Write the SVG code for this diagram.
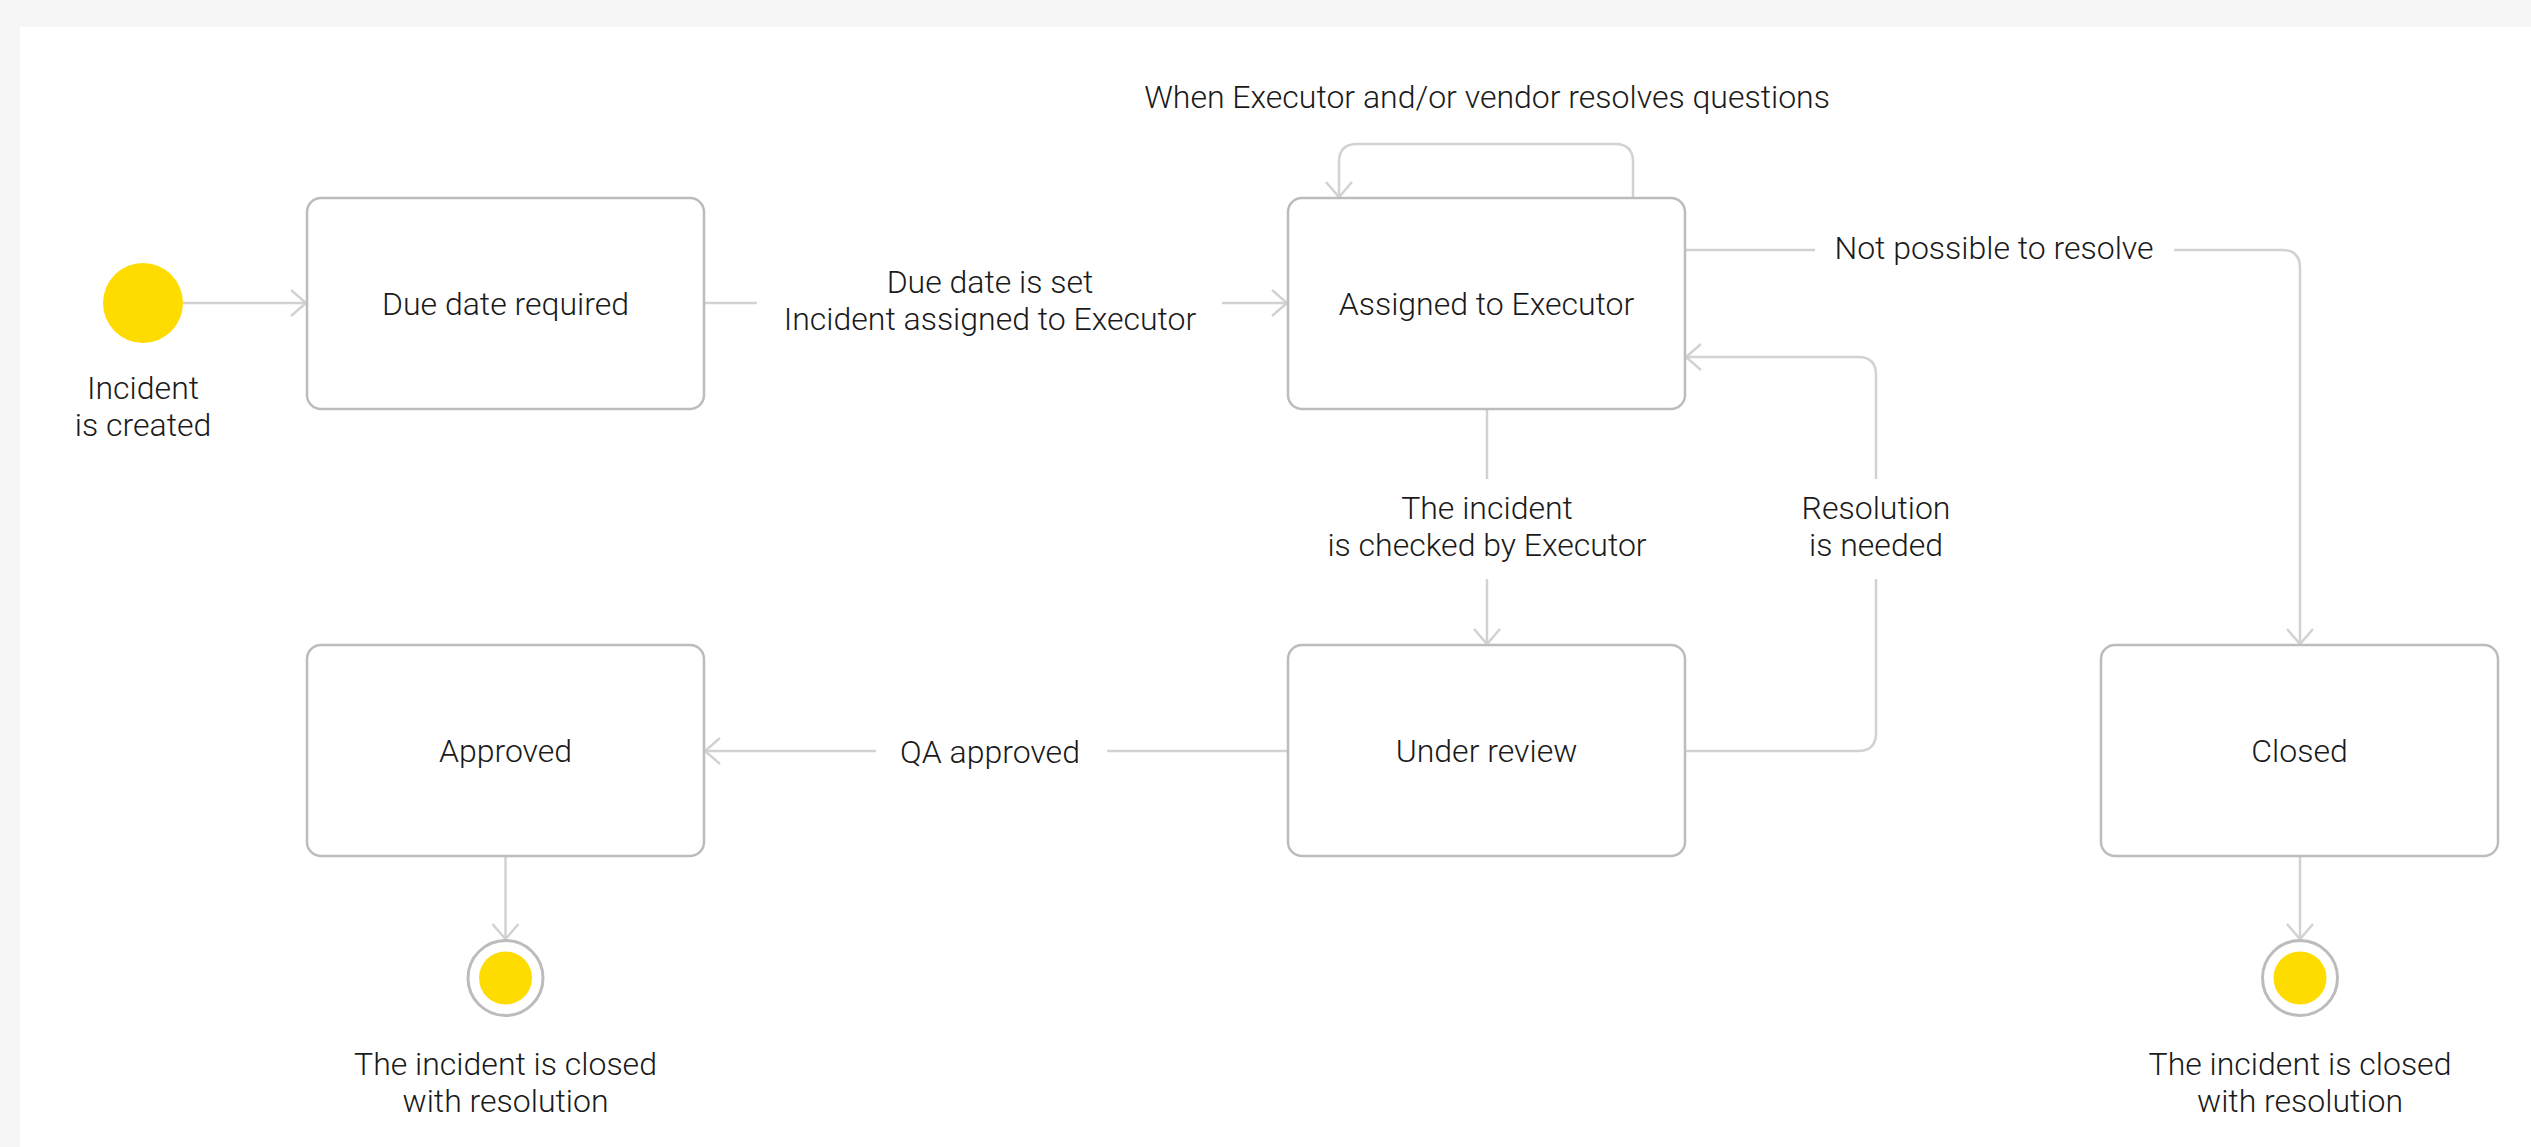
<svg xmlns="http://www.w3.org/2000/svg" width="2531" height="1147" viewBox="0 0 2531 1147">
<style>
text{font-family:Roboto,"Liberation Sans",sans-serif;font-weight:300;font-size:32px;fill:#1a1a1a;text-anchor:middle}
.box{fill:#fff;stroke:#bcbcbc;stroke-width:2.5}
.conn{fill:none;stroke:#d2d2d2;stroke-width:2.5}
.start{fill:#ffdc00}
.ring{fill:#fff;stroke:#bcbcbc;stroke-width:3}
</style>
<defs>
<marker id="arr" viewBox="-20 -20 40 40" refX="0" refY="0" markerWidth="40" markerHeight="40" markerUnits="userSpaceOnUse" orient="auto">
<path d="M-15 -13 L0 0 L-15 13" fill="none" stroke="#d2d2d2" stroke-width="2.5"/>
</marker>
</defs>
<rect x="0" y="0" width="2531" height="1147" fill="#f6f6f6"/>
<rect x="20" y="27" width="2511" height="1120" fill="#fff"/>

<g id="connectors">
<path class="conn" d="M183 303 H306" marker-end="url(#arr)"/>
<path class="conn" d="M704 303 H757"/>
<path class="conn" d="M1222 303 H1287" marker-end="url(#arr)"/>
<path class="conn" d="M1633 198 V162 Q1633 144 1615 144 H1357 Q1339 144 1339 162 V197" marker-end="url(#arr)"/>
<path class="conn" d="M1685 250 H1815"/>
<path class="conn" d="M2174 250 H2282 Q2300 250 2300 268 V644" marker-end="url(#arr)"/>
<path class="conn" d="M1487 409 V479"/>
<path class="conn" d="M1487 579 V644" marker-end="url(#arr)"/>
<path class="conn" d="M1685 751 H1858 Q1876 751 1876 733 V579"/>
<path class="conn" d="M1876 479 V375 Q1876 357 1858 357 H1686" marker-end="url(#arr)"/>
<path class="conn" d="M1288 751 H1107"/>
<path class="conn" d="M876 751 H705" marker-end="url(#arr)"/>
<path class="conn" d="M505.5 856 V939" marker-end="url(#arr)"/>
<path class="conn" d="M2300 856 V939" marker-end="url(#arr)"/>
</g>

<g id="labels">
<text x="1487" y="108">When Executor and/or vendor resolves questions</text>
<text x="990" y="293">Due date is set</text>
<text x="990" y="330">Incident assigned to Executor</text>
<text x="1994" y="259">Not possible to resolve</text>
<text x="1487" y="519">The incident</text>
<text x="1487" y="556">is checked by Executor</text>
<text x="1876" y="519">Resolution</text>
<text x="1876" y="556">is needed</text>
<text x="990" y="763">QA approved</text>
</g>

<g id="start">
<circle class="start" cx="143" cy="303" r="40"/>
<text x="143" y="399">Incident</text>
<text x="143" y="436">is created</text>
</g>

<g id="due-date-required">
<rect class="box" x="307" y="198" width="397" height="211" rx="14"/>
<text x="505.5" y="315">Due date required</text>
</g>

<g id="assigned-to-executor">
<rect class="box" x="1288" y="198" width="397" height="211" rx="14"/>
<text x="1486.5" y="315">Assigned to Executor</text>
</g>

<g id="approved">
<rect class="box" x="307" y="645" width="397" height="211" rx="14"/>
<text x="505.5" y="762">Approved</text>
</g>

<g id="under-review">
<rect class="box" x="1288" y="645" width="397" height="211" rx="14"/>
<text x="1486.5" y="762">Under review</text>
</g>

<g id="closed">
<rect class="box" x="2101" y="645" width="397" height="211" rx="14"/>
<text x="2299.5" y="762">Closed</text>
</g>

<g id="end-approved">
<circle class="ring" cx="505.5" cy="978" r="37.5"/>
<circle class="start" cx="505.5" cy="978" r="26.5"/>
<text x="505.5" y="1075">The incident is closed</text>
<text x="505.5" y="1112">with resolution</text>
</g>

<g id="end-closed">
<circle class="ring" cx="2300" cy="978" r="37.5"/>
<circle class="start" cx="2300" cy="978" r="26.5"/>
<text x="2300" y="1075">The incident is closed</text>
<text x="2300" y="1112">with resolution</text>
</g>
</svg>
